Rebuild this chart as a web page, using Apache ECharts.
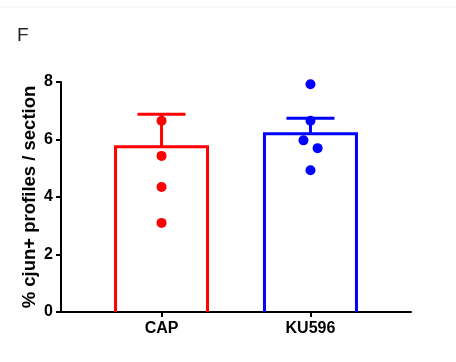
<!DOCTYPE html>
<html><head><meta charset="utf-8">
<script src="https://cdn.jsdelivr.net/npm/echarts@6/dist/echarts.min.js"></script>
<style>html,body{margin:0;padding:0;background:#fff}#c{width:456px;height:362px}</style>
</head><body><div id="c"></div>
<script>
const categories = ['CAP', 'KU596'];
const categoryPos = [1, 2];
const colors = ['#ff0000', '#0000ff'];
const means = [5.75, 6.20];
const sem = [1.13, 0.54];
const capPoints = [6.65, 5.43, 4.35, 3.10];
const capJitter = [0, 0, 0, 0];
const kuPoints = [7.92, 6.65, 5.97, 5.70, 4.93];
const kuJitter = [0, 0, -0.047, 0.048, 0];
const yTicks = [0, 2, 4, 6, 8];

const chart = echarts.init(document.getElementById('c'));
const font = 'Liberation Sans, Arial, sans-serif';

const barData = categories.map((c, i) => [categoryPos[i], means[i], i]);
const errData = categories.map((c, i) => [categoryPos[i], means[i], means[i] + sem[i], i]);

chart.setOption({
  animation: false,
  title: { text: 'F', left: 12, top: 21, textStyle: { fontFamily: font, fontSize: 19, fontWeight: 'normal', color: '#222' } },
  graphic: [{ type: 'line', shape: { x1: 0, y1: 7, x2: 456, y2: 7 }, style: { stroke: '#f0f0f0', lineWidth: 1 } }],
  grid: { left: 61, right: 45, top: 82, bottom: 50 },
  xAxis: {
    type: 'value', min: 0.325, max: 2.675,
    splitLine: { show: false },
    axisLine: { show: true, lineStyle: { color: '#000', width: 2 } },
    axisTick: { show: true, length: 5, lineStyle: { color: '#000', width: 2 }, customValues: categoryPos },
    axisLabel: {
      customValues: categoryPos,
      formatter: v => categories[categoryPos.indexOf(Math.round(v))] || '',
      fontFamily: font, fontSize: 16, fontWeight: 'bold', color: '#000', margin: 9
    }
  },
  yAxis: {
    type: 'value', min: 0, max: 8, interval: 2,
    name: '% cjun+ profiles / section', nameLocation: 'middle', nameGap: 22, nameMoveOverlap: false,
    nameTextStyle: { fontFamily: font, fontSize: 18.5, fontWeight: 'bold', color: '#000' },
    splitLine: { show: false },
    axisLine: { show: true, lineStyle: { color: '#000', width: 2 } },
    axisTick: { show: true, length: 5, lineStyle: { color: '#000', width: 2 } },
    axisLabel: { fontFamily: font, fontSize: 16, fontWeight: 'bold', color: '#000', margin: 8,
      customValues: yTicks }
  },
  series: [
    {
      type: 'custom', data: barData, z: 2,
      renderItem: (params, api) => {
        const x = api.value(0);
        const top = api.coord([x, api.value(1)]);
        const base = api.coord([x, 0]);
        const col = colors[api.value(2)];
        const hw = 46;
        return { type: 'polyline', shape: { points: [
          [top[0] - hw, base[1]], [top[0] - hw, top[1]], [top[0] + hw, top[1]], [top[0] + hw, base[1]]
        ] }, style: { stroke: col, lineWidth: 3, fill: null, lineJoin: 'miter' } };
      }
    },
    {
      type: 'custom', data: errData, z: 3,
      renderItem: (params, api) => {
        const x = api.value(0);
        const p0 = api.coord([x, api.value(1)]);
        const p1 = api.coord([x, api.value(2)]);
        const col = colors[api.value(3)];
        const half = 24;
        return { type: 'group', children: [
          { type: 'line', shape: { x1: p0[0], y1: p0[1], x2: p1[0], y2: p1[1] }, style: { stroke: col, lineWidth: 3 } },
          { type: 'line', shape: { x1: p1[0] - half, y1: p1[1], x2: p1[0] + half, y2: p1[1] }, style: { stroke: col, lineWidth: 3 } }
        ]};
      }
    },
    { type: 'scatter', symbolSize: 10, z: 4, itemStyle: { color: colors[0], opacity: 1 },
      data: capPoints.map((v, i) => [categoryPos[0] + capJitter[i], v]) },
    { type: 'scatter', symbolSize: 10, z: 4, itemStyle: { color: colors[1], opacity: 1 },
      data: kuPoints.map((v, i) => [categoryPos[1] + kuJitter[i], v]) }
  ]
});
</script></body></html>
